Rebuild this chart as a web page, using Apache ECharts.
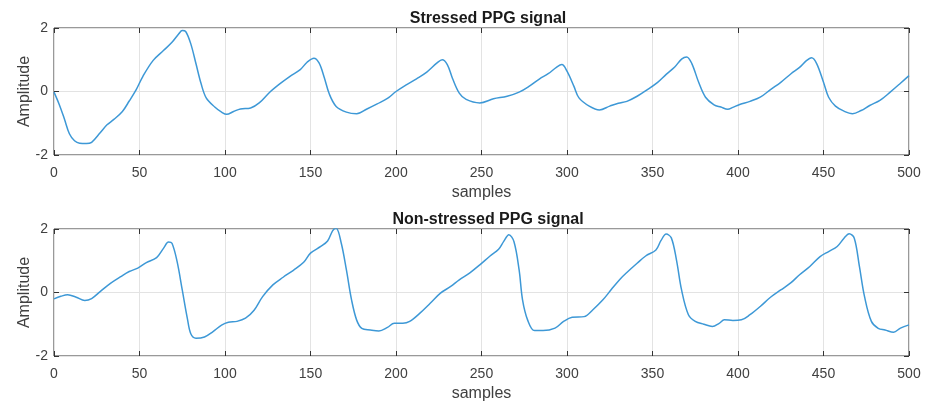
<!DOCTYPE html>
<html>
<head>
<meta charset="utf-8">
<script src="https://cdn.jsdelivr.net/npm/echarts@6/dist/echarts.min.js"></script>
<style>
html,body{margin:0;padding:0;background:#fff;}
#c{width:927px;height:403px;}
</style>
</head>
<body>
<div id="c"></div>
<script>
var titles = ['Stressed PPG signal', 'Non-stressed PPG signal'];
var xTicks = [0, 50, 100, 150, 200, 250, 300, 350, 400, 450, 500];
var yTicks = [-2, 0, 2];

var stressedX = [0,3,6,9,12,15,19,22,27,31,35,40,44,48,52,58,64,69,73,75,77,80,83,86,89,94,98,101,105,109,115,120,126,132,138,144,148,152,155,158,161,165,171,177,183,189,195,200,206,212,218,224,227,230,233,237,241,249,257,265,272,278,284,289,294,297,300,304,307,313,319,325,330,335,341,347,353,358,363,367,370,373,377,381,386,390,394,397,401,407,413,419,425,431,436,440,443,446,450,453,457,462,467,472,477,483,489,495,500];
var stressedY = [-0.02,-0.4,-0.85,-1.33,-1.55,-1.63,-1.64,-1.6,-1.3,-1.05,-0.88,-0.63,-0.3,0.05,0.48,0.98,1.29,1.55,1.82,1.92,1.89,1.5,0.88,0.25,-0.2,-0.49,-0.65,-0.72,-0.63,-0.55,-0.52,-0.36,-0.03,0.24,0.48,0.69,0.92,1.05,0.9,0.45,-0.08,-0.47,-0.65,-0.7,-0.55,-0.39,-0.22,0,0.21,0.4,0.61,0.9,1.0,0.85,0.42,-0.05,-0.25,-0.36,-0.23,-0.15,-0.02,0.17,0.4,0.56,0.77,0.85,0.64,0.17,-0.2,-0.46,-0.58,-0.46,-0.37,-0.31,-0.15,0.06,0.29,0.54,0.77,1.02,1.09,0.88,0.29,-0.18,-0.42,-0.49,-0.56,-0.5,-0.41,-0.31,-0.18,0.06,0.29,0.56,0.76,0.97,1.06,0.88,0.29,-0.18,-0.46,-0.62,-0.7,-0.6,-0.44,-0.28,-0.02,0.26,0.5];

var relaxedX = [0,4,8,13,18,22,27,33,39,44,49,54,60,64,67,69,72,75,78,80,83,88,93,98,102,107,112,117,122,128,134,140,146,150,156,160,163,165,168,171,174,177,180,185,190,195,199,204,208,214,220,226,232,237,243,249,255,260,263,266,269,272,274,277,281,286,293,298,303,310,315,321,326,331,335,341,346,352,355,358,361,364,367,371,375,380,385,389,392,397,402,407,413,419,425,431,436,442,448,453,458,462,465,468,471,474,478,482,486,491,495,500];
var relaxedY = [-0.2,-0.12,-0.07,-0.15,-0.25,-0.19,0.03,0.29,0.5,0.66,0.77,0.94,1.1,1.39,1.59,1.55,0.97,0.08,-0.82,-1.3,-1.44,-1.4,-1.23,-1.03,-0.94,-0.91,-0.81,-0.56,-0.13,0.24,0.48,0.7,0.95,1.24,1.45,1.62,1.95,2.02,1.55,0.71,-0.23,-0.87,-1.13,-1.18,-1.21,-1.1,-0.97,-0.97,-0.91,-0.65,-0.34,-0.02,0.19,0.4,0.61,0.87,1.15,1.36,1.61,1.82,1.6,0.71,-0.23,-0.87,-1.2,-1.2,-1.12,-0.91,-0.78,-0.76,-0.55,-0.23,0.1,0.42,0.63,0.92,1.15,1.34,1.64,1.84,1.72,1.03,0.08,-0.7,-0.91,-1.0,-1.07,-0.97,-0.86,-0.88,-0.86,-0.7,-0.44,-0.15,0.08,0.31,0.56,0.82,1.13,1.29,1.45,1.71,1.85,1.71,0.82,-0.13,-0.91,-1.13,-1.18,-1.25,-1.12,-1.02];

function pairs(xs, ys){ return xs.map(function(x,i){ return [x, ys[i]]; }); }

var FONT = '"Liberation Sans", Arial, sans-serif';
var lineColor = '#3d98d6';
var boxColor = '#333333';
var tickColor = '#333333';
var gridTops = [28, 229];

var grids = [], xAxes = [], yAxes = [], series = [], titleObjs = [];
[ [stressedX, stressedY], [relaxedX, relaxedY] ].forEach(function(d, k){
  grids.push({left: 54, top: gridTops[k], width: 855, height: 127, show: true, borderColor: boxColor, borderWidth: 1, backgroundColor: '#fff'});
  titleObjs.push({text: titles[k], left: 483, top: gridTops[k] - 22, textAlign: 'center',
    textStyle: {fontFamily: FONT, fontSize: 16, fontWeight: 'bold', color: '#1a1a1a'}});
  xAxes.push({type: 'value', gridIndex: k, min: 0, max: 500, interval: 50, position: 'bottom',
    name: 'samples', nameLocation: 'middle', nameGap: 30,
    nameTextStyle: {fontFamily: FONT, fontSize: 16, color: '#404040'},
    axisLine: {show: false, onZero: false}, axisTick: {show: true, inside: true, length: 5, lineStyle: {color: tickColor}},
    axisLabel: {fontFamily: FONT, fontSize: 14, color: '#404040', margin: 11},
    splitLine: {show: true, lineStyle: {color: '#e3e3e3', width: 1}}});
  xAxes.push({type: 'value', gridIndex: k, min: 0, max: 500, interval: 50, position: 'top',
    axisLine: {show: false, onZero: false}, axisTick: {show: true, inside: true, length: 5, lineStyle: {color: tickColor}},
    axisLabel: {show: false}, splitLine: {show: false}});
  yAxes.push({type: 'value', gridIndex: k, min: -2, max: 2, interval: 2, position: 'left',
    name: 'Amplitude', nameLocation: 'middle', nameGap: 21, nameMoveOverlap: false,
    nameTextStyle: {fontFamily: FONT, fontSize: 16, color: '#404040'},
    axisLine: {show: false, onZero: false}, axisTick: {show: true, inside: true, length: 5, lineStyle: {color: tickColor}},
    axisLabel: {fontFamily: FONT, fontSize: 14, color: '#404040', margin: 6},
    splitLine: {show: true, lineStyle: {color: '#e3e3e3', width: 1}}});
  yAxes.push({type: 'value', gridIndex: k, min: -2, max: 2, interval: 2, position: 'right',
    axisLine: {show: false, onZero: false}, axisTick: {show: true, inside: true, length: 5, lineStyle: {color: tickColor}},
    axisLabel: {show: false}, splitLine: {show: false}});
  series.push({type: 'line', xAxisIndex: 2*k, yAxisIndex: 2*k, data: pairs(d[0], d[1]),
    smooth: 0.35, showSymbol: false, clip: true, z: 5,
    lineStyle: {color: lineColor, width: 1.5}});
});

var chart = echarts.init(document.getElementById('c'), null, {renderer: 'canvas'});
chart.setOption({
  animation: false,
  backgroundColor: '#fff',
  title: titleObjs,
  grid: grids,
  xAxis: xAxes,
  yAxis: yAxes,
  series: series
});
</script>
</body>
</html>
